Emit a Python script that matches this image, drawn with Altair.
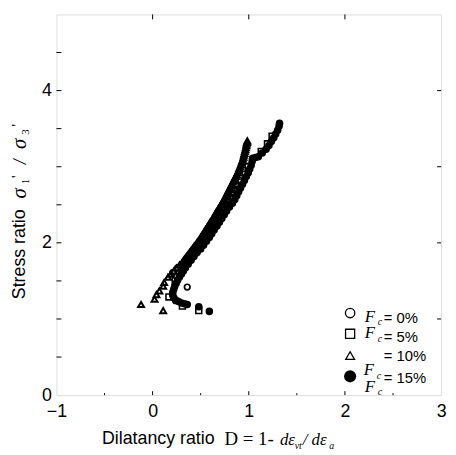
import altair as alt
import pandas as pd

# ---------------- data ----------------
# Fc = 0 %  (open circles)
circ_x = [0.36, 0.24, 0.21, 0.26, 0.325, 0.35, 0.38, 0.41, 0.44, 0.475, 0.505, 0.535, 0.56,
          0.585, 0.61, 0.64, 0.66, 0.69, 0.71, 0.735, 0.765, 0.79, 0.81, 0.83, 0.85, 0.87]
circ_y = [1.42, 1.24, 1.61, 1.67, 1.70, 1.75, 1.80, 1.85, 1.90, 1.95, 2.00, 2.05, 2.10,
          2.15, 2.20, 2.25, 2.30, 2.35, 2.40, 2.45, 2.50, 2.55, 2.60, 2.65, 2.70, 2.75]
# Fc = 5 %  (open squares)
sq_x = [0.17, 0.31, 0.48, 0.235, 0.28, 0.333, 0.393, 0.46, 0.523, 0.58, 0.633, 0.685,
        0.735, 0.793, 0.842, 0.882, 0.922, 0.962, 0.994, 1.13, 1.195, 1.243]
sq_y = [1.29, 1.17, 1.11, 1.50, 1.60, 1.70, 1.80, 1.90, 2.00, 2.10, 2.20, 2.30,
        2.40, 2.50, 2.60, 2.70, 2.80, 2.90, 3.00, 3.20, 3.30, 3.40]
# Fc = 10 % (open triangles)
tri_x = [-0.12, 0.11, 0.02, 0.04, 0.07, 0.11, 0.12, 0.16, 0.19, 0.22, 0.25, 0.28,
         0.31, 0.325, 0.34, 0.355, 0.37, 0.385, 0.40, 0.415, 0.43, 0.445, 0.46, 0.475,
         0.49, 0.50, 0.515, 0.53, 0.54, 0.55, 0.565, 0.58, 0.59, 0.60, 0.615, 0.63, 0.64,
         0.65, 0.66, 0.675, 0.685, 0.70, 0.71, 0.72, 0.735, 0.745, 0.755, 0.765, 0.775,
         0.785, 0.795, 0.805, 0.815, 0.825, 0.835, 0.845, 0.855, 0.865, 0.875, 0.885,
         0.895, 0.90, 0.91, 0.918, 0.925, 0.932, 0.94, 0.945, 0.95, 0.955, 0.96, 0.965,
         0.97, 0.975, 0.978, 0.982, 0.985]
tri_y = [1.19, 1.11, 1.26, 1.32, 1.37, 1.43, 1.48, 1.55, 1.59, 1.63, 1.67, 1.71,
         1.75, 1.775, 1.80, 1.825, 1.85, 1.875, 1.90, 1.925, 1.95, 1.975, 2.00, 2.025,
         2.05, 2.075, 2.10, 2.125, 2.15, 2.175, 2.20, 2.225, 2.25, 2.275, 2.30, 2.325, 2.35,
         2.375, 2.40, 2.425, 2.45, 2.475, 2.50, 2.525, 2.55, 2.575, 2.60, 2.625, 2.65,
         2.675, 2.70, 2.725, 2.75, 2.775, 2.80, 2.825, 2.85, 2.875, 2.90, 2.925,
         2.95, 2.975, 3.00, 3.025, 3.05, 3.075, 3.10, 3.125, 3.15, 3.175, 3.20, 3.225,
         3.25, 3.275, 3.30, 3.32, 3.34]
# Fc = 15 % (filled circles)
fil_x = [0.48, 0.59, 0.36, 0.33, 0.30, 0.27, 0.24, 0.22, 0.21, 0.21, 0.22, 0.23, 0.245,
         0.26, 0.28, 0.30, 0.32, 0.34, 0.37, 0.40, 0.43, 0.46, 0.50, 0.53, 0.56, 0.59,
         0.615, 0.64, 0.67, 0.695, 0.72, 0.745, 0.77, 0.80, 0.83, 0.855, 0.875, 0.895,
         0.915, 0.935, 0.955, 0.975, 0.995, 1.01, 1.025, 1.035, 1.04, 1.07, 1.10, 1.14,
         1.18, 1.21, 1.235, 1.26, 1.28, 1.30, 1.315, 1.32]
fil_y = [1.16, 1.10, 1.19, 1.20, 1.21, 1.23, 1.25, 1.28, 1.31, 1.35, 1.39, 1.43, 1.47,
         1.51, 1.55, 1.59, 1.63, 1.67, 1.72, 1.77, 1.82, 1.87, 1.92, 1.97, 2.02, 2.07,
         2.12, 2.17, 2.22, 2.27, 2.32, 2.37, 2.42, 2.47, 2.52, 2.57, 2.62, 2.67,
         2.72, 2.77, 2.82, 2.87, 2.92, 2.97, 3.02, 3.07, 3.11, 3.12, 3.13, 3.18,
         3.23, 3.28, 3.33, 3.38, 3.43, 3.48, 3.53, 3.57]

x_labels = [-1, 0, 1, 2, 3]
y_labels = [0, 2, 4]
x_major_ticks = [0, 1, 2]
x_minor_ticks = [-0.5, 0.5, 1.5, 2.5]
y_left_ticks = [0.5, 1, 1.5, 2, 2.5, 3, 3.5, 4, 4.5]
y_right_ticks = [1, 2, 3, 4]

legend_text = ["= 0%", "= 5%", "= 10%", "= 15%"]
x_title = "Dilatancy ratio"
y_title = "Stress ratio"

# ---------------- chart ----------------
W, H = 389, 385
SANS = "Liberation Sans"
SERIF = "Liberation Serif"

xs = alt.Scale(domain=[-1, 3], nice=False, zero=False)
ys = alt.Scale(domain=[0, 5], nice=False, zero=False)
xaxis = alt.Axis(values=x_labels, ticks=False, domain=False, grid=False, title=None,
                 labelFontSize=18, labelFont=SANS, labelColor="black", labelPadding=8,
                 labelFlush=False, labelOverlap=False)
yaxis = alt.Axis(values=y_labels, ticks=False, domain=False, grid=False, title=None,
                 labelFontSize=18, labelFont=SANS, labelColor="black", labelPadding=5,
                 labelFlush=False, labelOverlap=False)


def X():
    return alt.X("x:Q", scale=xs, axis=xaxis)


def Y():
    return alt.Y("y:Q", scale=ys, axis=yaxis)


def pts(xv, yv, **kw):
    return alt.Chart(pd.DataFrame({"x": xv, "y": yv})).mark_point(
        color="black", opacity=1, **kw).encode(x=X(), y=Y())


filled = pts(fil_x, fil_y, shape="circle", filled=True, size=58)
tris = pts(tri_x, tri_y, shape="triangle-up", filled=False, size=36, strokeWidth=2)
squares = pts(sq_x, sq_y, shape="square", filled=False, size=36, strokeWidth=1.6)
circles = pts(circ_x, circ_y, shape="circle", filled=False, size=32, strokeWidth=1.7)


def xticks(vals, a, b):
    return alt.Chart(pd.DataFrame({"x": vals})).mark_rule(color="black", strokeWidth=1).encode(
        x=X(), y=alt.value(a), y2=alt.value(b))


def yticks(vals, a, b):
    return alt.Chart(pd.DataFrame({"y": vals})).mark_rule(color="black", strokeWidth=1).encode(
        y=Y(), x=alt.value(a), x2=alt.value(b))


tick_layers = [
    xticks(x_major_ticks, H, H - 4),
    xticks(x_minor_ticks, H, H - 2),
    xticks(x_major_ticks, 0, 5),
    yticks(y_left_ticks, 0, 5),
    yticks(y_right_ticks, W, W - 4),
]


def txt(s, x, y, size, font=SANS, style="normal", align="left", baseline="alphabetic", angle=0):
    return alt.Chart(pd.DataFrame({"t": [s]})).mark_text(
        align=align, baseline=baseline, font=font, fontSize=size, fontStyle=style,
        angle=angle, color="black").encode(x=alt.value(x), y=alt.value(y), text="t:N")


def sym(shape, filled, size, x, y):
    return alt.Chart(pd.DataFrame({"s": [shape]})).mark_point(
        shape=shape, filled=filled, size=size, color="black", opacity=1,
        strokeWidth=1.3).encode(x=alt.value(x), y=alt.value(y))


legend = [
    sym("circle", False, 90, 297, 302),
    sym("square", False, 85, 297, 323),
    sym("triangle-up", False, 80, 297, 345),
    sym("circle", True, 150, 297, 366),
    # row 1
    txt("F", 317, 306, 17, SERIF, "italic", "center", "middle"),
    txt("c", 325, 311, 10, SERIF, "italic", "left", "middle"),
    txt(legend_text[0], 331, 307, 15, SANS, "normal", "left", "middle"),
    # row 2
    txt("F", 317, 322, 17, SERIF, "italic", "center", "middle"),
    txt("c", 325, 328, 10, SERIF, "italic", "left", "middle"),
    txt(legend_text[1], 331, 326, 15, SANS, "normal", "left", "middle"),
    # row 3
    txt(legend_text[2], 331, 345, 15, SANS, "normal", "left", "middle"),
    # row 4
    txt("F", 316, 360, 17, SERIF, "italic", "center", "middle"),
    txt("c", 324, 366, 10, SERIF, "italic", "left", "middle"),
    txt(legend_text[3], 331, 368, 15, SANS, "normal", "left", "middle"),
    txt("F", 317, 377, 17, SERIF, "italic", "center", "middle"),
    txt("c", 325, 382, 10, SERIF, "italic", "left", "middle"),
]

titles = [
    # x title
    txt(x_title, 46, 434, 18, SANS),
    txt("D =  1-", 170, 435, 19, SERIF),
    txt("dε", 226, 435, 17, SERIF, "italic"),
    txt("vt", 241, 439, 10, SERIF, "italic"),
    txt("/ dε", 249, 435, 17, SERIF, "italic"),
    txt("a", 276, 439, 10, SERIF, "italic"),
    # y title (rotated)
    txt(y_title, -37, 288, 18, SANS, "normal", "left", "middle", 270),
    txt("σ", -37, 181, 21, SERIF, "italic", "center", "middle", 270),
    txt("1", -31, 169, 11, SERIF, "normal", "center", "middle", 270),
    txt("'", -40, 164, 15, SERIF, "normal", "center", "middle", 270),
    txt("/", -36, 149, 18, SERIF, "italic", "center", "middle", 270),
    txt("σ", -37, 131, 21, SERIF, "italic", "center", "middle", 270),
    txt("3", -31, 119, 11, SERIF, "normal", "center", "middle", 270),
    txt("'", -40, 112, 15, SERIF, "normal", "center", "middle", 270),
]

chart = alt.layer(
    filled, tris, squares, circles, *tick_layers, *legend, *titles
).properties(
    width=W, height=H,
    autosize=alt.AutoSizeParams(type="none"),
    padding={"left": 49, "top": 4, "right": 7, "bottom": 55},
).configure_view(
    stroke="black", strokeWidth=1
).configure(background="white")

chart.save("out.html", embed_options={"renderer": "svg", "actions": False})
